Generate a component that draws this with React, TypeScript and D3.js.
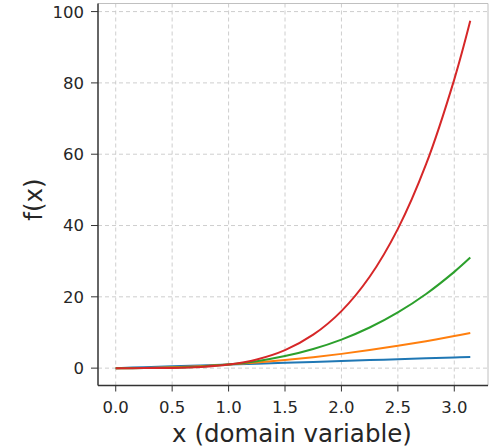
import React from "react";
import * as d3 from "d3";

const xs = [0, 0.25, 0.5, 0.75, 1, 1.25, 1.5, 1.75, 2, 2.25, 2.5, 2.75, 3, 3.1416];
const blueVals = [0, 0.25, 0.5, 0.75, 1, 1.25, 1.5, 1.75, 2, 2.25, 2.5, 2.75, 3, 3.14];
const orangeVals = [0, 0.06, 0.25, 0.56, 1, 1.56, 2.25, 3.06, 4, 5.06, 6.25, 7.56, 9, 9.87];
const greenVals = [0, 0.016, 0.125, 0.42, 1, 1.95, 3.38, 5.36, 8, 11.39, 15.63, 20.8, 27, 31.0];
const redVals = [0, 0.004, 0.06, 0.32, 1, 2.44, 5.06, 9.38, 16, 25.63, 39.06, 57.19, 81, 97.4];
const seriesColors = ["#1f77b4", "#ff7f0e", "#2ca02c", "#d62728"];
const xTicks = [0, 0.5, 1, 1.5, 2, 2.5, 3];
const yTicks = [0, 20, 40, 60, 80, 100];

const W = 493, H = 447;
const L = 98, R = 488, T = 3.5, B = 385.5;
const FONT = "DejaVu Sans, sans-serif";

export default function App() {
  const xMax = 3.1416, yMax = 97.4;
  const x = d3.scaleLinear().domain([-0.05 * xMax, xMax * 1.05]).range([L, R]);
  const y = d3.scaleLinear().domain([-0.05 * yMax, yMax * 1.05]).range([B, T]);
  const all = [blueVals, orangeVals, greenVals, redVals];
  const line = d3
    .line<number>()
    .x((_, i) => x(xs[i]))
    .y((v) => y(v))
    .curve(d3.curveCatmullRom.alpha(0.5));
  return (
    <svg width={W} height={H} style={{ position: "absolute", left: 0, top: 0 }}>
      <rect width={W} height={H} fill="#fff" />
      {xTicks.map((t) => (
        <line key={"gx" + t} x1={x(t)} x2={x(t)} y1={T} y2={B} stroke="#c8c8c8" strokeWidth={0.9} strokeDasharray="4,3" />
      ))}
      {yTicks.map((t) => (
        <line key={"gy" + t} x1={L} x2={R} y1={y(t)} y2={y(t)} stroke="#c8c8c8" strokeWidth={0.9} strokeDasharray="4,3" />
      ))}
      {all.map((vals, i) => (
        <path key={i} d={line(vals) || ""} fill="none" stroke={seriesColors[i]} strokeWidth={2} />
      ))}
      <line x1={L} x2={R} y1={T} y2={T} stroke="#c0c0c0" strokeWidth={1} />
      <line x1={R} x2={R} y1={T} y2={B} stroke="#c0c0c0" strokeWidth={1} />
      <line x1={L} x2={L} y1={T} y2={B} stroke="#333" strokeWidth={1.5} />
      <line x1={L} x2={R} y1={B} y2={B} stroke="#333" strokeWidth={1.5} />
      {xTicks.map((t) => (
        <g key={"tx" + t}>
          <line x1={x(t)} x2={x(t)} y1={B} y2={B + 6} stroke="#333" strokeWidth={1} />
          <text x={x(t)} y={B + 27.5} textAnchor="middle" fontFamily={FONT} fontSize={16.5} fill="#262626">
            {t.toFixed(1)}
          </text>
        </g>
      ))}
      {yTicks.map((t) => (
        <g key={"ty" + t}>
          <line x1={L - 7} x2={L} y1={y(t)} y2={y(t)} stroke="#333" strokeWidth={1} />
          <text x={L - 14} y={y(t)} dy="0.36em" textAnchor="end" fontFamily={FONT} fontSize={16.5} fill="#262626">
            {t}
          </text>
        </g>
      ))}
      <text x={(L + R) / 2 - 1} y={441.5} textAnchor="middle" fontFamily={FONT} fontSize={24.5} fill="#262626">
        x (domain variable)
      </text>
      <text transform={`translate(42, ${(T + B) / 2 + 5}) rotate(-90)`} textAnchor="middle" fontFamily={FONT} fontSize={24.5} fill="#262626">
        f(x)
      </text>
    </svg>
  );
}
